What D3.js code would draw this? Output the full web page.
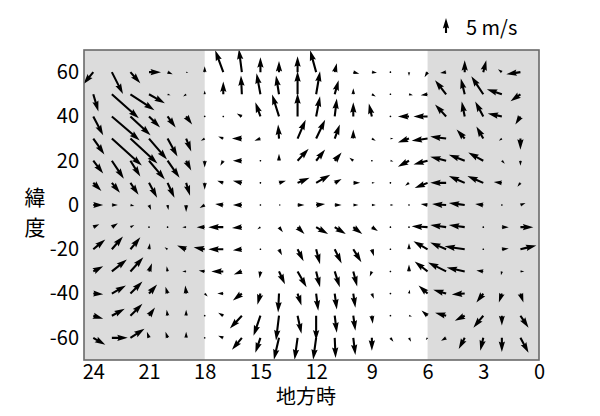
<!DOCTYPE html>
<html>
<head>
<meta charset="utf-8">
<script src="https://cdn.jsdelivr.net/npm/d3@7"></script>
<style>
  html, body { margin: 0; padding: 0; background: #ffffff; }
  svg { display: block; }
  text { font-family: "Noto Sans CJK JP", "DejaVu Sans", sans-serif; fill: #000; }
</style>
</head>
<body>
<svg id="chart" width="600" height="416"></svg>
<script>
// ---------------- data ----------------
const hours = [24,23,22,21,20,19,18,17,16,15,14,13,12,11,10,9,8,7,6,5,4,3,2,1];
const lats = [60,50,40,30,20,10,0,-10,-20,-30,-40,-50,-60];
const xTickValues = [24,21,18,15,12,9,6,3,0];
const yTickValues = [60,40,20,0,-20,-40,-60];
const nightStart = [24.5, 6];   // shaded (night) intervals in local time
const nightEnd   = [18, 0];
const keySpeed = 5;              // m/s
const keyLabel = "5 m/s";
const xLabel = "地方時";
const yLabelChars = ["緯", "度"];

// u (rightward on the plot) and v (northward) in m/s ; rows follow lats, columns follow hours
const uWind = [
  [-3.3, 3.7, 3.3, 4.0, 1.7, 0.7, 0, -2.7, -1.0, 0, 0, 0, -2.0, 0.7, 2.0, 1.7, 0.3, 0, -1.0, -2.0, 0, 1.0, -1.3, -4.7],
  [1.7, 9.0, 8.0, 5.3, 1.0, -1.0, 0, 0, -0.3, -1.3, -1.0, 0, 1.3, 1.3, 0, 1.3, 0.3, 1.3, -2.3, -3.7, -1.3, -4.0, -5.0, -3.3],
  [3.3, 9.3, 6.7, 3.7, 2.7, 2.0, 0, 0.3, -1.7, -1.7, -2.3, 0, 1.3, 0.7, 0, -1.0, 0, -3.7, -4.7, -3.7, -1.0, -2.7, -4.7, -1.7],
  [3.7, 10.0, 9.0, 6.0, 3.3, 1.7, -1.3, -1.7, -3.3, -2.0, -0.3, 2.7, 3.0, 1.7, 0, 1.3, 1.0, -3.7, -5.3, -5.3, -2.7, -2.3, -1.0, 0],
  [3.3, 4.0, 3.3, 5.3, 4.0, 1.7, 0, -1.0, -3.0, -0.3, 0, 3.7, 3.0, 2.3, -1.3, 0.3, 1.0, -3.7, -4.7, -5.3, -5.3, -5.0, 1.0, 0],
  [2.7, 2.7, 2.7, 2.7, 2.3, 1.3, 0, -2.0, -3.0, -0.3, 2.3, 4.0, 4.7, 2.3, 2.3, 1.0, 0.3, -1.3, -4.3, -5.3, -5.3, -5.3, -2.7, -1.0],
  [3.3, 2.0, 1.3, 0.7, 0.3, 0, -1.7, -2.7, -3.0, -0.3, 0.7, 2.3, 3.0, 2.3, 1.7, 1.3, 1.0, 0.3, -2.3, -4.7, -5.3, -2.7, -0.3, 1.7],
  [2.0, 2.0, 1.3, 0.2, 0.2, -1.3, -2.7, -5.0, -3.3, -1.0, 1.3, 2.3, 4.0, 3.7, 3.0, 2.0, 0.3, 0.3, -5.3, -5.3, -5.3, 0.3, 2.3, 4.3],
  [4.0, 3.7, 3.3, 0.3, -1.0, -3.0, -3.7, -5.0, -3.0, -0.3, 1.0, 2.0, 1.3, 2.3, 2.7, 0.7, 0, 0, -4.7, -5.3, -6.7, 0.3, 2.3, 5.3],
  [3.3, 5.0, 4.3, 1.0, -0.3, -1.3, -2.0, -4.0, -2.7, -0.3, 2.0, 3.0, 1.3, 1.7, 1.3, -0.7, 0.3, 0, -4.3, -6.0, -6.0, -2.3, -0.3, 1.3],
  [3.3, 4.7, 4.0, 2.7, -0.7, -0.3, 1.0, -2.0, -3.0, -1.0, -0.3, 1.3, 0.7, 0.7, 0.7, 0.7, 0, 0.3, -3.0, -4.3, -4.3, -2.3, -1.0, 1.0],
  [3.3, 4.3, 4.0, 2.0, -0.3, 0, 0, -1.7, -4.0, -2.3, -1.0, 1.3, 0, 0.7, 0.7, 0.3, 0, 1.0, -2.0, -3.7, -3.3, -3.3, 0, 2.7],
  [4.0, 5.3, 4.7, -0.7, -0.7, 0, 0, -1.7, -3.3, -1.7, -1.7, -1.0, -1.0, 0.3, 0.7, 0, 1.0, 0.7, -0.7, -1.7, -2.0, -1.0, 0, 2.7]
];
const vWind = [
  [-4.0, -7.3, -3.7, 0, -0.7, -0.3, 2.0, 7.3, 7.7, 5.0, 3.7, 5.3, 7.3, 3.0, -0.5, -0.2, 0, -1.3, -1.7, -0.3, 4.0, 4.0, 1.0, -0.7],
  [-5.7, -8.0, -5.3, -3.0, -0.3, -0.7, 1.3, 4.3, 6.3, 7.0, 6.3, 7.7, 7.7, 4.7, 2.0, -0.7, 0, -0.3, -0.3, 4.7, 5.3, 6.0, 1.7, -2.3],
  [-6.3, -8.0, -6.3, -3.7, -3.7, -2.7, 0.3, 0, 1.0, 4.7, 7.3, 7.7, 6.7, 6.0, 4.7, 4.3, 0.3, 0, 0, 4.0, 5.0, 5.0, 1.0, -2.7],
  [-5.3, -9.0, -8.3, -7.0, -6.0, -4.3, -0.7, 0.7, 0, -0.7, 4.7, 6.3, 6.3, 4.7, 3.0, -0.7, 0, -1.3, -0.7, 0.7, 3.0, 4.0, -0.7, -3.7],
  [-4.3, -6.0, -5.3, -6.3, -5.7, -3.3, -2.3, -1.7, 0, 0, 2.3, 4.0, 3.7, 2.7, 1.0, 0, -0.3, -2.0, -1.3, 1.3, 2.0, 2.7, -1.0, -1.7],
  [-2.7, -3.3, -4.0, -5.0, -5.0, -4.3, -2.3, 0.7, 0.7, 0, 0.7, 1.7, 2.7, 1.3, 0, 0, 0, -1.0, -1.7, 0, 2.3, 2.3, 0.3, -1.3],
  [0, 0, -0.3, -1.7, -1.7, -2.3, -1.0, 0.3, 0, 0, 0, 0, 0.3, 0, 0, 0, 0, 0, 0.3, 0.3, 0.7, 0.3, 0, 0.7],
  [1.0, 1.3, 0.7, 0, 0, 0, 0, 0, -0.3, -0.7, -1.7, -2.3, -2.3, -2.3, -2.3, -1.3, 0, 0, 0.3, 0.7, 0.7, 0, 0, 0],
  [3.3, 4.3, 4.0, 2.0, 0.7, 1.3, 0.7, 0, -0.3, 0, -2.0, -4.0, -5.0, -4.7, -4.3, -2.3, 0, 2.0, 2.7, 2.3, 1.0, 0, 0.3, 1.3],
  [1.7, 4.0, 4.7, 2.7, 1.7, 0, 0.3, 0, -1.0, -2.3, -4.3, -5.3, -5.3, -5.3, -5.0, -1.7, 0, 2.3, 3.3, 3.0, 1.3, 0.3, -1.3, 0],
  [-0.2, 2.7, 4.0, 3.0, 2.3, 2.7, -1.0, 0, -2.3, -3.7, -6.3, -4.0, -5.7, -5.3, -4.7, -1.7, 0.3, 1.3, 2.7, 1.3, -0.3, -3.0, -3.0, -3.0],
  [-1.0, 2.3, 4.0, 2.7, 2.0, 2.0, 0.2, 1.0, -4.3, -6.7, -8.3, -6.0, -8.3, -5.7, -5.0, -2.7, 0.2, -0.3, 1.7, 1.0, -1.7, -4.0, -3.3, -4.0],
  [-2.3, 0, 3.0, 2.0, 2.0, 2.0, 0.3, 0.7, -4.0, -5.0, -7.3, -7.3, -7.3, -6.7, -5.7, -4.3, -1.3, -1.3, -0.7, -1.0, -3.7, -4.3, -4.7, -5.0]
];

// ---------------- layout ----------------
const svg = d3.select("#chart");
const plotL = 84, plotR = 539, plotT = 50, plotB = 360;
const x = d3.scaleLinear().domain([24.5, 0]).range([plotL, plotR]);
const y = d3.scaleLinear().domain([-70, 70]).range([plotB, plotT]);
const speedPx = d3.scaleLinear().domain([0, keySpeed]).range([0, 15]); // arrow length per m/s

svg.append("defs").append("clipPath").attr("id", "plotclip")
  .append("rect").attr("x", plotL).attr("y", plotT).attr("width", plotR - plotL).attr("height", plotB - plotT);

// night shading
const shade = svg.append("g");
nightStart.forEach((s, i) => {
  shade.append("rect")
    .attr("x", x(s)).attr("y", plotT)
    .attr("width", x(nightEnd[i]) - x(s)).attr("height", plotB - plotT)
    .attr("fill", "#dcdcdc");
});

// arrow shape (matplotlib-like quiver, pivot at tail)
const W = 2.1, HL = 5 * W, HAL = 4.5 * W, HW = 1.5 * W;
function arrowPoints(L) {
  if (L < 0.9) {
    const r = 0.9;
    return d3.range(6).map(k => [r * Math.cos(k * Math.PI / 3), r * Math.sin(k * Math.PI / 3)]);
  }
  if (L >= HL) {
    return [[0, -W/2], [L - HAL, -W/2], [L - HL, -HW], [L, 0], [L - HL, HW], [L - HAL, W/2], [0, W/2]];
  }
  const s = L / HL;
  return [[0, -W/2], [HL - HAL, -W/2], [0, -HW], [HL, 0], [0, HW], [HL - HAL, W/2], [0, W/2]]
    .map(p => [p[0] * s, p[1] * s]);
}
function arrowPath(x0, y0, u, v) {
  const L = speedPx(Math.hypot(u, v));
  const ang = Math.atan2(-v, u);
  const c = Math.cos(ang), sn = Math.sin(ang);
  const pts = arrowPoints(L).map(p => [x0 + p[0] * c - p[1] * sn, y0 + p[0] * sn + p[1] * c]);
  return "M" + pts.map(p => p[0].toFixed(2) + "," + p[1].toFixed(2)).join("L") + "Z";
}

const vectors = [];
lats.forEach((lat, i) => hours.forEach((h, j) => {
  vectors.push({ h, lat, u: uWind[i][j], v: vWind[i][j] });
}));

svg.append("g").attr("clip-path", "url(#plotclip)")
  .selectAll("path").data(vectors).join("path")
  .attr("d", d => arrowPath(x(d.h), y(d.lat), d.u, d.v))
  .attr("fill", "#000");

// frame
svg.append("rect")
  .attr("x", plotL).attr("y", plotT).attr("width", plotR - plotL).attr("height", plotB - plotT)
  .attr("fill", "none").attr("stroke", "#6a6a6a").attr("stroke-width", 1.6);

// axes (labels only)
const xAxis = d3.axisBottom(x).tickValues(xTickValues).tickSize(0).tickPadding(5).tickFormat(d3.format("d"));
const gx = svg.append("g").attr("transform", `translate(0,${plotB})`).call(xAxis);
gx.select(".domain").remove();
gx.selectAll("text").style("font-size", "20px").style("font-family", '"Noto Sans CJK JP", sans-serif').attr("fill", "#000");

const yAxis = d3.axisLeft(y).tickValues(yTickValues).tickSize(0).tickPadding(5).tickFormat(d => String(d));
const gy = svg.append("g").attr("transform", `translate(${plotL},0)`).call(yAxis);
gy.select(".domain").remove();
gy.selectAll("text").style("font-size", "20px").style("font-family", '"Noto Sans CJK JP", sans-serif').attr("fill", "#000");

// axis titles
svg.append("text").attr("x", 306).attr("y", 395).attr("text-anchor", "middle")
  .attr("dominant-baseline", "central").style("font-size", "20px").text(xLabel);
yLabelChars.forEach((ch, k) => {
  svg.append("text").attr("x", 35).attr("y", 196 + k * 29.5).attr("text-anchor", "middle")
    .attr("dominant-baseline", "central").style("font-size", "21px").text(ch);
});

// quiver key
const kx = 446, ky = 33;
svg.append("path").attr("d", arrowPath(kx, ky, 0, keySpeed)).attr("fill", "#000");
svg.append("text").attr("x", 466).attr("y", 26).attr("dominant-baseline", "central")
  .style("font-size", "20px").text(keyLabel);
</script>
</body>
</html>
